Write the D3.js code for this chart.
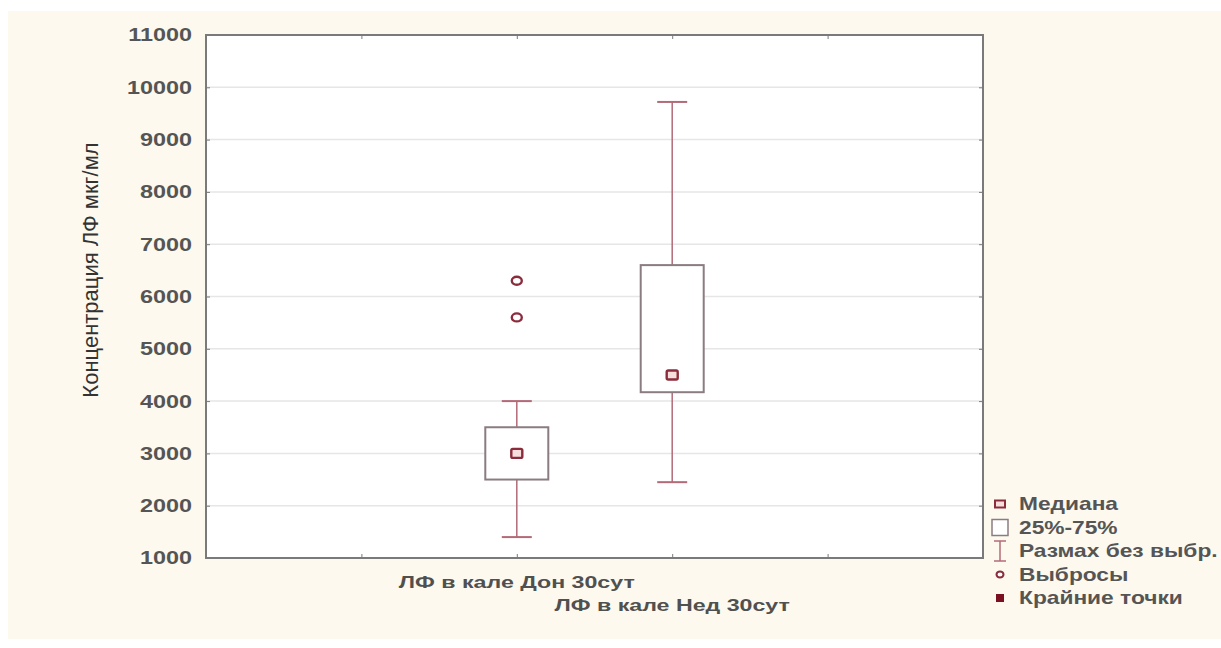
<!DOCTYPE html>
<html>
<head>
<meta charset="utf-8">
<script src="https://cdn.jsdelivr.net/npm/d3@7"></script>
<style>
  body { margin: 0; background: #fff; }
  text { font-family: "Liberation Sans", Arial, sans-serif; }
</style>
</head>
<body>
<svg id="chart" width="1221" height="648"></svg>
<script>
// box plot values
var groups = ['ЛФ в кале Дон 30сут', 'ЛФ в кале Нед 30сут'];
var groupPos = [2, 3];
var whiskerLow = [1400, 2450];
var q1 = [2500, 4170];
var medians = [3000, 4500];
var q3 = [3500, 6600];
var whiskerHigh = [4000, 9720];
var outliers = [[6300, 5600], []];
var yTicks = [1000, 2000, 3000, 4000, 5000, 6000, 7000, 8000, 9000, 10000, 11000];
var xTicks = [1, 2, 3, 4];
var legendItems = ['Медиана', '25%-75%', 'Размах без выбр.', 'Выбросы', 'Крайние точки'];

var svg = d3.select('#chart');
var sx = 1.3; // picture is stretched sideways, so is the text

var plot = {left: 206, right: 983, top: 35, bottom: 558};

var x = d3.scaleLinear().domain([0, 5]).range([plot.left, plot.right]);
var y = d3.scaleLinear().domain([1000, 11000]).range([plot.bottom, plot.top]);

// cream panel behind the chart
svg.append('rect')
  .attr('x', 8).attr('y', 11)
  .attr('width', 1213).attr('height', 628)
  .attr('fill', '#fdf9ee');

svg.append('rect')
  .attr('x', plot.left).attr('y', plot.top)
  .attr('width', plot.right - plot.left).attr('height', plot.bottom - plot.top)
  .attr('fill', '#fff');

// grid lines
svg.append('g')
  .selectAll('line')
  .data(yTicks.slice(1, -1))
  .enter()
  .append('line')
  .attr('x1', plot.left).attr('x2', plot.right)
  .attr('y1', function(d){ return y(d); })
  .attr('y2', function(d){ return y(d); })
  .attr('stroke', '#e6e6e6')
  .attr('stroke-width', 1.5);

// axes with small inner ticks
var axisColor = '#7a7a7a';
function plainTicks(g){
  g.select('.domain').remove();
  g.selectAll('line').attr('stroke', axisColor);
}
svg.append('g')
  .attr('transform', 'translate(' + plot.left + ',0)')
  .call(d3.axisRight(y).tickValues(yTicks).tickSize(4).tickFormat(''))
  .call(plainTicks);
svg.append('g')
  .attr('transform', 'translate(' + plot.right + ',0)')
  .call(d3.axisLeft(y).tickValues(yTicks).tickSize(4).tickFormat(''))
  .call(plainTicks);
svg.append('g')
  .attr('transform', 'translate(0,' + plot.bottom + ')')
  .call(d3.axisTop(x).tickValues(xTicks).tickSize(4).tickFormat(''))
  .call(plainTicks);
svg.append('g')
  .attr('transform', 'translate(0,' + plot.top + ')')
  .call(d3.axisBottom(x).tickValues(xTicks).tickSize(4).tickFormat(''))
  .call(plainTicks);

svg.append('rect')
  .attr('x', plot.left).attr('y', plot.top)
  .attr('width', plot.right - plot.left).attr('height', plot.bottom - plot.top)
  .attr('fill', 'none')
  .attr('stroke', axisColor)
  .attr('stroke-width', 2);

// y tick labels
svg.append('g')
  .selectAll('g')
  .data(yTicks)
  .enter()
  .append('g')
  .attr('transform', function(d){ return 'translate(192,' + y(d) + ') scale(' + sx + ',1)'; })
  .append('text')
  .attr('text-anchor', 'end')
  .attr('dy', '0.36em')
  .style('font-size', '18px')
  .style('font-weight', 'bold')
  .attr('fill', '#555')
  .text(function(d){ return d; });

// y axis title
svg.append('g')
  .attr('transform', 'translate(98,270) rotate(-90)')
  .append('text')
  .attr('text-anchor', 'middle')
  .style('font-size', '22px')
  .attr('fill', '#333')
  .text('Концентрация ЛФ мкг/мл');

// x category labels, staggered
svg.append('g')
  .selectAll('g')
  .data(groups)
  .enter()
  .append('g')
  .attr('transform', function(d, i){ return 'translate(' + x(groupPos[i]) + ',' + (582 + i * 23) + ') scale(1.45,1)'; })
  .append('text')
  .attr('text-anchor', 'middle')
  .attr('dy', '0.36em')
  .style('font-size', '16px')
  .style('font-weight', 'bold')
  .attr('fill', '#505050')
  .text(function(d){ return d; });

// boxes
var boxW = 63, capW = 30;
var whiskerColor = '#b36a78';
var boxColor = '#8a7c80';
var markColor = '#8b2c3c';

var box = svg.append('g')
  .selectAll('g')
  .data(groups)
  .enter()
  .append('g');

box.append('line')
  .attr('x1', function(d, i){ return x(groupPos[i]); })
  .attr('x2', function(d, i){ return x(groupPos[i]); })
  .attr('y1', function(d, i){ return y(whiskerHigh[i]); })
  .attr('y2', function(d, i){ return y(q3[i]); })
  .attr('stroke', whiskerColor).attr('stroke-width', 1.5);
box.append('line')
  .attr('x1', function(d, i){ return x(groupPos[i]); })
  .attr('x2', function(d, i){ return x(groupPos[i]); })
  .attr('y1', function(d, i){ return y(q1[i]); })
  .attr('y2', function(d, i){ return y(whiskerLow[i]); })
  .attr('stroke', whiskerColor).attr('stroke-width', 1.5);
box.append('line')
  .attr('x1', function(d, i){ return x(groupPos[i]) - capW / 2; })
  .attr('x2', function(d, i){ return x(groupPos[i]) + capW / 2; })
  .attr('y1', function(d, i){ return y(whiskerHigh[i]); })
  .attr('y2', function(d, i){ return y(whiskerHigh[i]); })
  .attr('stroke', whiskerColor).attr('stroke-width', 2);
box.append('line')
  .attr('x1', function(d, i){ return x(groupPos[i]) - capW / 2; })
  .attr('x2', function(d, i){ return x(groupPos[i]) + capW / 2; })
  .attr('y1', function(d, i){ return y(whiskerLow[i]); })
  .attr('y2', function(d, i){ return y(whiskerLow[i]); })
  .attr('stroke', whiskerColor).attr('stroke-width', 2);

box.append('rect')
  .attr('x', function(d, i){ return x(groupPos[i]) - boxW / 2; })
  .attr('y', function(d, i){ return y(q3[i]); })
  .attr('width', boxW)
  .attr('height', function(d, i){ return y(q1[i]) - y(q3[i]); })
  .attr('fill', '#fff')
  .attr('stroke', boxColor).attr('stroke-width', 2);

box.append('rect')
  .attr('x', function(d, i){ return x(groupPos[i]) - 5.5; })
  .attr('y', function(d, i){ return y(medians[i]) - 4.5; })
  .attr('width', 11).attr('height', 9).attr('rx', 1.5)
  .attr('fill', '#f6dede')
  .attr('stroke', markColor).attr('stroke-width', 2.4);

// outliers
groups.forEach(function(g, i){
  svg.append('g')
    .selectAll('ellipse')
    .data(outliers[i])
    .enter()
    .append('ellipse')
    .attr('cx', x(groupPos[i]))
    .attr('cy', function(d){ return y(d); })
    .attr('rx', 5).attr('ry', 4)
    .attr('fill', '#fff')
    .attr('stroke', markColor).attr('stroke-width', 2.4);
});

// legend
var leg = svg.append('g')
  .selectAll('g')
  .data(legendItems)
  .enter()
  .append('g')
  .attr('transform', function(d, i){ return 'translate(1000,' + (504 + i * 23.5) + ')'; });

leg.append('g')
  .attr('transform', 'translate(19,0) scale(' + sx + ',1)')
  .append('text')
  .attr('dy', '0.36em')
  .style('font-size', '17.5px')
  .style('font-weight', 'bold')
  .attr('fill', '#555')
  .text(function(d){ return d; });

leg.each(function(d, i){
  var g = d3.select(this);
  if (i === 0) {
    g.append('rect').attr('x', -5).attr('y', -3.5).attr('width', 10).attr('height', 7)
      .attr('fill', '#f6dede').attr('stroke', markColor).attr('stroke-width', 2);
  } else if (i === 1) {
    g.append('rect').attr('x', -8).attr('y', -8).attr('width', 16).attr('height', 16)
      .attr('fill', '#fff').attr('stroke', boxColor).attr('stroke-width', 1.5);
  } else if (i === 2) {
    g.append('line').attr('x1', 0).attr('x2', 0).attr('y1', -10).attr('y2', 10)
      .attr('stroke', whiskerColor).attr('stroke-width', 1.5);
    g.append('line').attr('x1', -6).attr('x2', 6).attr('y1', -10).attr('y2', -10)
      .attr('stroke', whiskerColor).attr('stroke-width', 1.5);
    g.append('line').attr('x1', -6).attr('x2', 6).attr('y1', 10).attr('y2', 10)
      .attr('stroke', whiskerColor).attr('stroke-width', 1.5);
  } else if (i === 3) {
    g.append('ellipse').attr('rx', 3.5).attr('ry', 3)
      .attr('fill', '#fff').attr('stroke', markColor).attr('stroke-width', 2);
  } else {
    g.append('rect').attr('x', -4).attr('y', -4).attr('width', 8).attr('height', 8)
      .attr('fill', '#7a1020');
  }
});
</script>
</body>
</html>
